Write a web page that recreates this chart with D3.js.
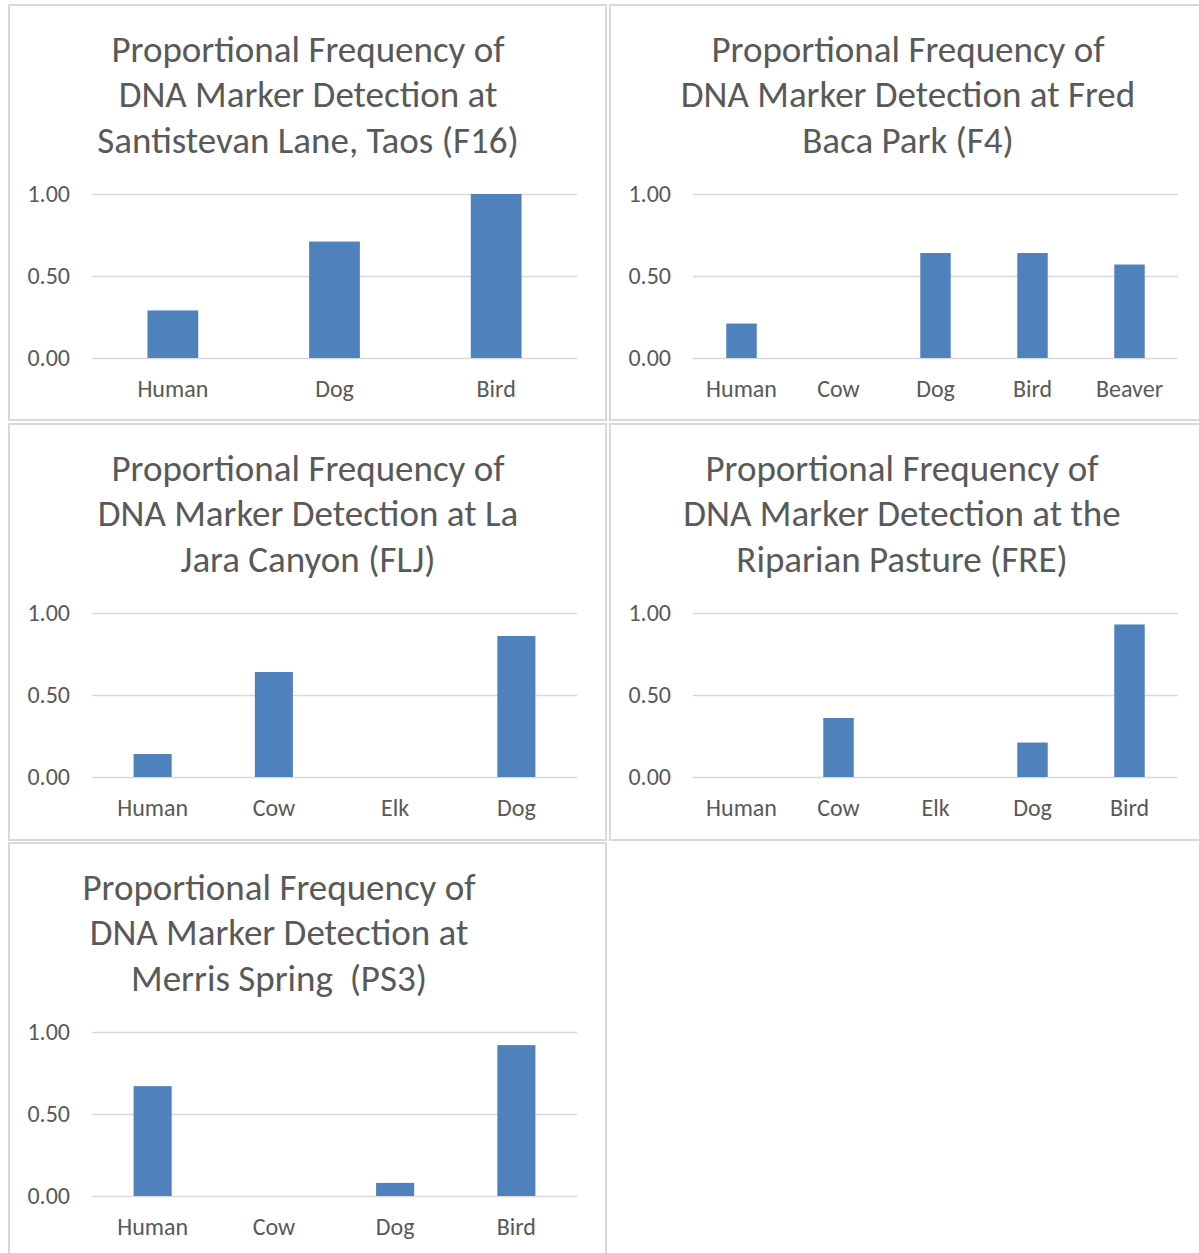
<!DOCTYPE html>
<html>
<head>
<meta charset="utf-8">
<script src="https://cdn.jsdelivr.net/npm/d3@7"></script>
<style>
  body { margin: 0; background: #fff; }
  text { font-family: Carlito, Calibri, Lato, sans-serif; fill: #595959; }
</style>
</head>
<body>
<div id="graph"></div>
<script>
// one list of categories + values per site
var titles1 = ["Proportional Frequency of", "DNA Marker Detection at", "Santistevan Lane, Taos (F16)"];
var cats1 = ["Human", "Dog", "Bird"];
var vals1 = [0.29, 0.71, 1.00];

var titles2 = ["Proportional Frequency of", "DNA Marker Detection at Fred", "Baca Park (F4)"];
var cats2 = ["Human", "Cow", "Dog", "Bird", "Beaver"];
var vals2 = [0.21, 0, 0.64, 0.64, 0.57];

var titles3 = ["Proportional Frequency of", "DNA Marker Detection at La", "Jara Canyon (FLJ)"];
var cats3 = ["Human", "Cow", "Elk", "Dog"];
var vals3 = [0.14, 0.64, 0, 0.86];

var titles4 = ["Proportional Frequency of", "DNA Marker Detection at the", "Riparian Pasture (FRE)"];
var cats4 = ["Human", "Cow", "Elk", "Dog", "Bird"];
var vals4 = [0, 0.36, 0, 0.21, 0.93];

var titles5 = ["Proportional Frequency of", "DNA Marker Detection at", "Merris Spring\u00a0 (PS3)"];
var cats5 = ["Human", "Cow", "Dog", "Bird"];
var vals5 = [0.67, 0, 0.08, 0.92];

var yTicks = [0, 0.5, 1];

var width = 1199, height = 1253;

var svg = d3.select("#graph").append("svg")
    .attr("width", width)
    .attr("height", height);

// panel boxes: x, y, w, h, title centre
var panels = [
  {x: 9, y: 5, w: 597, h: 415, tx: 299, titles: titles1, cats: cats1, vals: vals1},
  {x: 610, y: 5, w: 597, h: 415, tx: 298, titles: titles2, cats: cats2, vals: vals2},
  {x: 9, y: 424, w: 597, h: 416, tx: 299, titles: titles3, cats: cats3, vals: vals3},
  {x: 610, y: 424, w: 597, h: 416, tx: 292, titles: titles4, cats: cats4, vals: vals4},
  {x: 9, y: 843, w: 597, h: 420, tx: 270, titles: titles5, cats: cats5, vals: vals5}
];

var plotLeft = 83, plotRight = 568, plotTop = 189, plotBottom = 353;

panels.forEach(p => {
  var g = svg.append("g").attr("transform", `translate(${p.x},${p.y})`);

  g.append("rect")
    .attr("width", p.w)
    .attr("height", p.h)
    .attr("fill", "#fff")
    .attr("stroke", "#d9d9d9")
    .attr("stroke-width", 2);

  g.append("g")
    .selectAll("text")
    .data(p.titles)
    .join("text")
    .attr("x", p.tx)
    .attr("y", (d, i) => 44 + i * 45.5)
    .attr("dy", "0.35em")
    .attr("text-anchor", "middle")
    .attr("font-size", 37)
    .style("white-space", "pre")
    .text(d => d);

  var x = d3.scaleBand()
    .domain(p.cats)
    .range([plotLeft, plotRight])
    .paddingInner(0.686)
    .paddingOuter(0.343);

  var y = d3.scaleLinear()
    .domain([0, 1])
    .range([plotBottom, plotTop]);

  var yAxis = g.append("g")
    .attr("transform", `translate(${plotLeft},0)`)
    .call(d3.axisLeft(y)
      .tickValues(yTicks)
      .tickFormat(d3.format(".2f"))
      .tickSize(-(plotRight - plotLeft))
      .tickPadding(22));
  yAxis.select(".domain").remove();
  yAxis.selectAll(".tick line")
    .attr("stroke", "#d9d9d9")
    .attr("stroke-width", 1.5);
  yAxis.selectAll(".tick text")
    .attr("font-size", 24)
    .attr("fill", "#595959")
    .attr("font-family", null);

  g.append("g")
    .selectAll("rect")
    .data(p.cats.map((c, i) => ({cat: c, val: p.vals[i]})))
    .join("rect")
    .attr("fill", "#4f81bd")
    .attr("x", d => x(d.cat))
    .attr("width", x.bandwidth())
    .attr("y", d => y(d.val))
    .attr("height", d => y(0) - y(d.val));

  var xAxis = g.append("g")
    .attr("transform", `translate(0,${plotBottom})`)
    .call(d3.axisBottom(x).tickSize(0).tickPadding(22));
  xAxis.select(".domain").remove();
  xAxis.selectAll(".tick text")
    .attr("font-size", 24)
    .attr("fill", "#595959")
    .attr("font-family", null);
});
</script>
</body>
</html>
